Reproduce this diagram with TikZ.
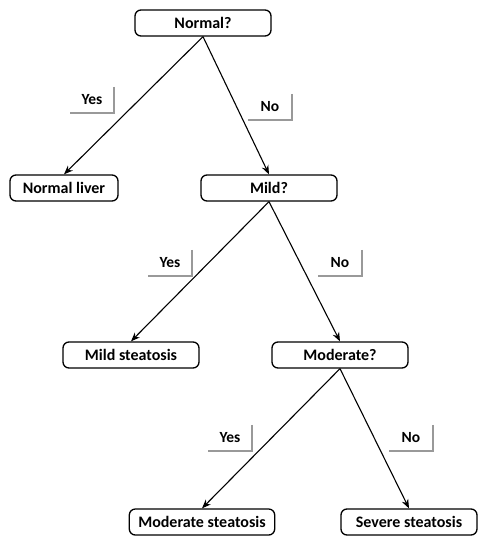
\documentclass[tikz,border=0pt]{standalone}
\usepackage{fontspec}
\setmainfont{Carlito}
\usetikzlibrary{arrows.meta}
\begin{document}
\begin{tikzpicture}[x=1pt, y=-1pt,
  step box/.style={draw, line width=1.3pt, rounded corners=6pt, fill=white,
    minimum width=136pt, minimum height=26pt, inner xsep=9pt,
    font=\fontsize{16}{18}\selectfont\bfseries},
  tag/.style={minimum width=44pt, minimum height=26pt, inner sep=0pt,
    font=\fontsize{15.5}{18}\selectfont\bfseries},
  tag line/.style={draw=black!40, line width=2pt},
  link/.style={line width=1.1pt, -{Stealth[length=9pt, width=7pt]}}]
  \useasboundingbox (0,0) rectangle (480,542);
  % questions
  \node[step box] (normal) at (203,23) {Normal?};
  \node[step box] (mild) at (269,188) {Mild?};
  \node[step box] (moderate) at (340,355) {Moderate?};
  % outcomes
  \node[step box, minimum width=108pt] (liver) at (64,188) {Normal liver};
  \node[step box] (mildst) at (131,355) {Mild steatosis};
  \node[step box] (modst) at (202,522) {Moderate steatosis};
  \node[step box] (severe) at (409,522) {Severe steatosis};
  % connectors
  \draw[link] (normal.south) -- (liver.north);
  \draw[link] (normal.south) -- (mild.north);
  \draw[link] (mild.south) -- (mildst.north);
  \draw[link] (mild.south) -- (moderate.north);
  \draw[link] (moderate.south) -- (modst.north);
  \draw[link] (moderate.south) -- (severe.north);
  % yes / no tags
  \node[tag] (yes1) at (92,100) {Yes};
  \node[tag] (no1) at (270,107) {No};
  \node[tag] (yes2) at (170,263) {Yes};
  \node[tag] (no2) at (340,263) {No};
  \node[tag] (yes3) at (230,438) {Yes};
  \node[tag] (no3) at (411,438) {No};
  \draw[tag line] (yes1.north east) -- (yes1.south east) -- (yes1.south west);
  \draw[tag line] (no1.north east) -- (no1.south east) -- (no1.south west);
  \draw[tag line] (yes2.north east) -- (yes2.south east) -- (yes2.south west);
  \draw[tag line] (no2.north east) -- (no2.south east) -- (no2.south west);
  \draw[tag line] (yes3.north east) -- (yes3.south east) -- (yes3.south west);
  \draw[tag line] (no3.north east) -- (no3.south east) -- (no3.south west);
\end{tikzpicture}
\end{document}
